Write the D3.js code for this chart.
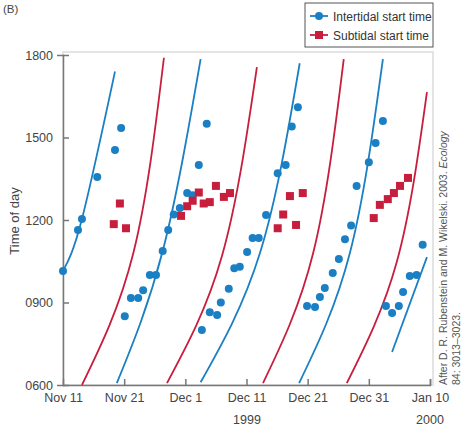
<!DOCTYPE html>
<html><head><meta charset="utf-8">
<script src="https://cdn.jsdelivr.net/npm/d3@7"></script>
<style>body{margin:0;background:#fff}svg{font-family:"Liberation Sans",Arial,sans-serif}</style>
</head><body><svg id="c" width="469" height="433"></svg>
<script>
// days since Nov 11 1999, hour of day
const tickDays = [0, 10, 20, 30, 40, 50, 60];
const tickLabels = ["Nov 11", "Nov 21", "Dec 1", "Dec 11", "Dec 21", "Dec 31", "Jan 10"];
const yTicks = [6, 9, 12, 15, 18];
const yLabels = ["0600", "0900", "1200", "1500", "1800"];

const interDays = [0, 2.45, 3.1, 5.6, 8.5, 9.5, 10.1, 11.1, 12.3, 13.1, 14.2, 15.2, 16.3, 17.2, 18.1, 19.1, 20.3, 21.2, 22.2, 23.5, 22.7, 24.0, 25.2, 25.8, 27.1, 28.0, 28.9, 30.1, 31.0, 32.0, 33.2, 35.1, 36.4, 37.4, 38.4, 39.9, 41.2, 42.0, 42.8, 44.1, 45.1, 46.1, 47.1, 48.0, 50.0, 51.1, 52.3, 52.8, 53.8, 54.9, 55.6, 56.7, 57.8, 58.8];
const interHours = [10.15, 11.64, 12.04, 13.56, 14.55, 15.35, 8.5, 9.16, 9.16, 9.45, 10.0, 10.0, 10.87, 11.64, 12.2, 12.44, 12.98, 12.9, 14.0, 15.5, 8.0, 8.65, 8.55, 9.0, 9.5, 10.25, 10.3, 10.84, 11.35, 11.35, 12.18, 13.7, 14.0, 15.4, 16.1, 8.87, 8.84, 9.2, 9.53, 10.07, 10.58, 11.3, 11.8, 13.24, 14.1, 14.8, 15.6, 8.87, 8.62, 8.87, 9.38, 9.96, 10.0, 11.1];

const subDays = [8.3, 9.3, 10.3, 19.3, 20.3, 21.2, 22.2, 23.0, 24.0, 25.0, 26.3, 27.3, 35.1, 36.0, 37.1, 38.1, 39.2, 50.8, 51.8, 53.1, 54.1, 55.1, 56.4];
const subHours = [11.85, 12.6, 11.7, 12.15, 12.5, 12.7, 13.0, 12.6, 12.65, 13.24, 12.84, 12.98, 11.7, 12.2, 12.87, 11.82, 12.98, 12.07, 12.55, 12.76, 12.98, 13.24, 13.53];

// predicted start-time curves: [day, hour] (start, middle, end)
const interLines = [
  [[0, 10.15], [3.1, 12.04], [8.5, 17.4]],
  [[8.8, 6.07], [16.3, 10.87], [22.5, 17.85]],
  [[22.5, 6.1], [32.2, 10.8], [38.7, 17.7]],
  [[38.6, 6.07], [46.9, 10.8], [52.3, 17.85]],
  [[53.8, 7.2], [59.5, 10.65]]
];
const subLines = [
  [[3.1, 6.0], [11.5, 10.8], [16.5, 17.9]],
  [[17.0, 6.07], [26.0, 10.7], [31.7, 17.56]],
  [[32.7, 6.07], [40.9, 10.8], [45.9, 17.85]],
  [[46.4, 6.07], [54.6, 10.5], [59.5, 16.65]]
];

const blue = "#1b7fc4", red = "#c81e3e";
const svg = d3.select("#c");
const m = {l: 63, r: 430, t: 55, b: 385};
const x = d3.scaleLinear().domain([0, 60]).range([m.l, m.r]);
const y = d3.scaleLinear().domain([6, 18]).range([m.b, m.t]);

// plot panel with faint border
svg.append("rect").attr("x", m.l).attr("y", m.t - 3).attr("width", m.r - m.l + 3).attr("height", m.b - m.t + 3)
  .attr("fill", "#fff").attr("stroke", "#e4e4e4").attr("stroke-width", 2);

const xa = svg.append("g").attr("transform", `translate(0,${m.b})`)
  .call(d3.axisBottom(x).tickValues(tickDays).tickFormat((d, i) => tickLabels[i]).tickSize(-6).tickPadding(8));
const ya = svg.append("g").attr("transform", `translate(${m.l},0)`)
  .call(d3.axisLeft(y).tickValues(yTicks).tickFormat((d, i) => yLabels[i]).tickSize(6).tickPadding(4));
[xa, ya].forEach(a => {
  a.select(".domain").attr("stroke", "#777").attr("stroke-width", 1.5);
  a.selectAll(".tick line").attr("stroke", "#777").attr("stroke-width", 1.5);
  a.selectAll("text").attr("font-size", 12.5).attr("fill", "#444");
});
ya.selectAll(".tick line").attr("x2", 6);
xa.selectAll(".tick").filter(d => d === 0).select("line").remove();

svg.append("text").attr("x", 247).attr("y", 424).attr("text-anchor", "middle").attr("font-size", 12.5).attr("fill", "#444").text("1999");
svg.append("text").attr("x", 430).attr("y", 424).attr("text-anchor", "middle").attr("font-size", 12.5).attr("fill", "#444").text("2000");
svg.append("text").attr("transform", "translate(19,221) rotate(-90)").attr("text-anchor", "middle").attr("font-size", 13).attr("fill", "#444").text("Time of day");
svg.append("text").attr("x", 3).attr("y", 13).attr("font-size", 11.5).attr("fill", "#444").text("(B)");

const credit = svg.append("text").attr("transform", "translate(447,385) rotate(-90)").attr("font-size", 10.5).attr("fill", "#555");
credit.append("tspan").attr("x", 0).attr("dy", 0).text("After D. R. Rubenstein and M. Wikelski. 2003. ");
credit.append("tspan").attr("font-style", "italic").text("Ecology");
credit.append("tspan").attr("x", 0).attr("dy", 13).text("84: 3013–3023.");

const line = d3.line().x(d => x(d[0])).y(d => y(d[1])).curve(d3.curveNatural);
svg.selectAll(".il").data(interLines).join("path").attr("d", line).attr("fill", "none").attr("stroke", blue).attr("stroke-width", 1.8);
svg.selectAll(".sl").data(subLines).join("path").attr("d", line).attr("fill", "none").attr("stroke", red).attr("stroke-width", 1.8);

svg.selectAll(".ip").data(interDays).join("circle").attr("cx", d => x(d)).attr("cy", (d, i) => y(interHours[i]))
  .attr("r", 4).attr("fill", blue);
svg.selectAll(".sp").data(subDays).join("rect").attr("x", d => x(d) - 4).attr("y", (d, i) => y(subHours[i]) - 4)
  .attr("width", 8).attr("height", 8).attr("fill", red);

// legend
const lg = svg.append("g").attr("transform", "translate(305,3)");
lg.append("rect").attr("width", 128).attr("height", 44).attr("fill", "#fff").attr("stroke", "#555").attr("stroke-width", 1);
[["Intertidal start time", blue, "c"], ["Subtidal start time", red, "s"]].forEach((e, i) => {
  const g = lg.append("g").attr("transform", `translate(0,${13 + i * 19})`);
  g.append("line").attr("x1", 5).attr("x2", 23).attr("stroke", e[1]).attr("stroke-width", 1.8);
  if (e[2] === "c") g.append("circle").attr("cx", 14).attr("r", 4).attr("fill", e[1]);
  else g.append("rect").attr("x", 10).attr("y", -4).attr("width", 8).attr("height", 8).attr("fill", e[1]);
  g.append("text").attr("x", 28).attr("y", 4.5).attr("font-size", 12).attr("fill", "#333").text(e[0]);
});
</script></body></html>
